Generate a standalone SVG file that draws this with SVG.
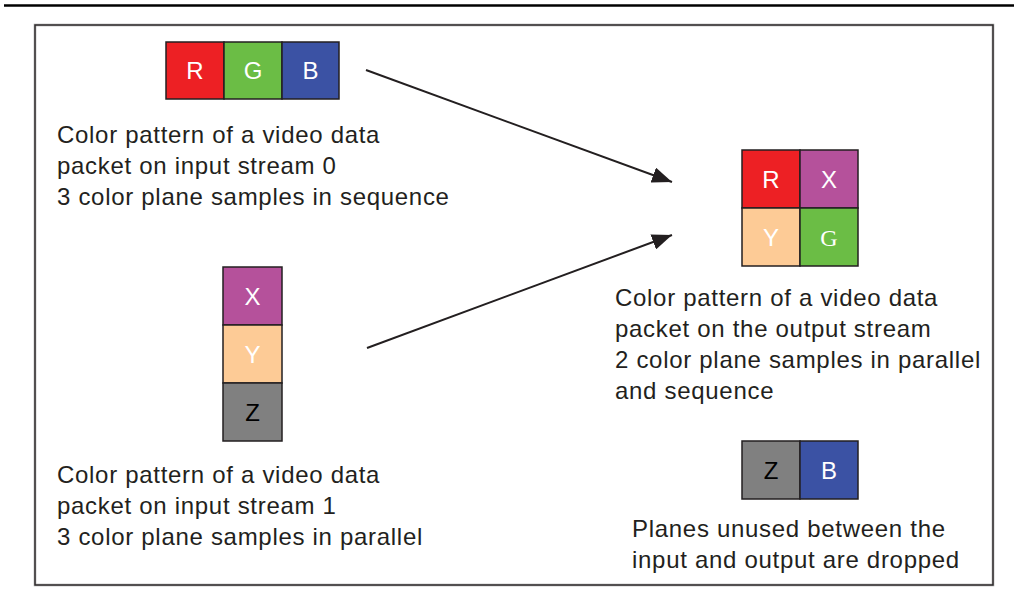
<svg xmlns="http://www.w3.org/2000/svg" width="1018" height="601" viewBox="0 0 1018 601">
<style>
.cap{font-family:"Liberation Sans",Arial,sans-serif;font-size:24px;letter-spacing:0.7px;fill:#231f20}
.lbl{font-family:"Liberation Sans",Arial,sans-serif;font-size:24px;text-anchor:middle;fill:#fff}
.cell{stroke:#231f20;stroke-width:1.5}
.conn{stroke:#231f20;stroke-width:2;fill:none}
</style>
<defs>
<marker id="arr" viewBox="0 0 20 16" refX="20" refY="8" markerWidth="20" markerHeight="16" orient="auto" markerUnits="userSpaceOnUse">
<path d="M0,0 L20,8 L0,16 z" fill="#231f20"/>
</marker>
</defs>
<rect width="1018" height="601" fill="#fff"/>
<line x1="4" y1="5.5" x2="1014" y2="5.5" stroke="#000" stroke-width="2.5"/>
<rect x="35" y="25" width="958" height="560" fill="none" stroke="#9a9a9a" stroke-width="2.5"/>
<rect x="35" y="25" width="958" height="560" fill="none" stroke="#231f20" stroke-width="1.2"/>

<g id="connectors">
<line class="conn" x1="366" y1="70" x2="672" y2="182" marker-end="url(#arr)"/>
<line class="conn" x1="367" y1="348" x2="672" y2="235" marker-end="url(#arr)"/>
</g>

<g id="stream0">
<rect class="cell" x="166" y="42" width="58" height="57" fill="#ed2024"/>
<rect class="cell" x="224" y="42" width="58" height="57" fill="#6bbd45"/>
<rect class="cell" x="282" y="42" width="57" height="57" fill="#3b52a4"/>
<text class="lbl" x="195" y="79">R</text>
<text class="lbl" x="253" y="79">G</text>
<text class="lbl" x="310.5" y="79">B</text>
<text class="cap" x="57" y="143">Color pattern of a video data</text>
<text class="cap" x="57" y="174">packet on input stream 0</text>
<text class="cap" x="57" y="205">3 color plane samples in sequence</text>
</g>

<g id="stream1">
<rect class="cell" x="223" y="267" width="59" height="58" fill="#b5519b"/>
<rect class="cell" x="223" y="325" width="59" height="58" fill="#fdcb96"/>
<rect class="cell" x="223" y="383" width="59" height="58" fill="#808080"/>
<text class="lbl" x="252.5" y="305">X</text>
<text class="lbl" x="252.5" y="363">Y</text>
<text class="lbl" x="252.5" y="421" style="fill:#000">Z</text>
<text class="cap" x="57" y="483">Color pattern of a video data</text>
<text class="cap" x="57" y="514">packet on input stream 1</text>
<text class="cap" x="57" y="545">3 color plane samples in parallel</text>
</g>

<g id="output">
<rect class="cell" x="742" y="150" width="58" height="58" fill="#ed2024"/>
<rect class="cell" x="800" y="150" width="58" height="58" fill="#b5519b"/>
<rect class="cell" x="742" y="208" width="58" height="58" fill="#fdcb96"/>
<rect class="cell" x="800" y="208" width="58" height="58" fill="#6bbd45"/>
<text class="lbl" x="771" y="188">R</text>
<text class="lbl" x="829" y="188">X</text>
<text class="lbl" x="771" y="246">Y</text>
<text class="lbl" x="829" y="246" style="font-family:'Liberation Serif','Times New Roman',serif">G</text>
<text class="cap" x="615" y="306">Color pattern of a video data</text>
<text class="cap" x="615" y="337">packet on the output stream</text>
<text class="cap" x="615" y="368">2 color plane samples in parallel</text>
<text class="cap" x="615" y="399">and sequence</text>
</g>

<g id="dropped">
<rect class="cell" x="742" y="441" width="58" height="58" fill="#808080"/>
<rect class="cell" x="800" y="441" width="58" height="58" fill="#3b52a4"/>
<text class="lbl" x="771" y="479" style="fill:#000">Z</text>
<text class="lbl" x="829" y="479">B</text>
<text class="cap" x="632" y="537">Planes unused between the</text>
<text class="cap" x="632" y="568">input and output are dropped</text>
</g>
</svg>
